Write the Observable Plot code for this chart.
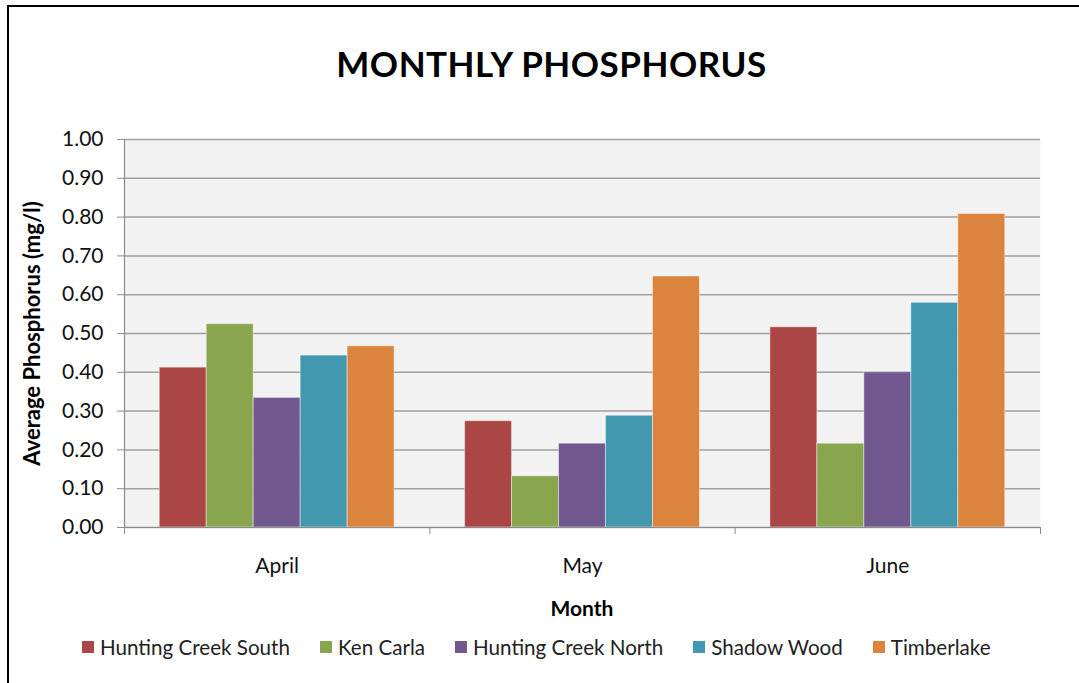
<!DOCTYPE html>
<html>
<head>
<meta charset="utf-8">
<script src="https://cdn.jsdelivr.net/npm/d3@7"></script>
<script src="https://cdn.jsdelivr.net/npm/@observablehq/plot@0.6"></script>
<style>
  html, body { margin: 0; padding: 0; background: #fff; }
  #wrap { position: relative; width: 1079px; height: 683px; overflow: hidden; font-family: Lato, "Open Sans", sans-serif; }
  #border { position: absolute; left: 7px; top: 5px; width: 1200px; height: 800px; border: 2.5px solid #000; box-sizing: border-box; }
  #title { position: absolute; left: 0; width: 1103px; top: 42px; text-align: center; font: bold 35px Lato, sans-serif; color: #000; letter-spacing: 0.5px; }
  #plot { position: absolute; left: 0; top: 0; }
  #xtitle { position: absolute; left: 124px; width: 916px; top: 595px; text-align: center; font: bold 21px Lato, sans-serif; color: #000; }
  #legend { position: absolute; left: 82px; top: 635px; display: flex; gap: 30px; font: 20.6px Lato, sans-serif; color: #222; white-space: nowrap; }
  .item { display: flex; align-items: center; gap: 6px; }
  .sw { width: 12px; height: 12px; display: inline-block; }
</style>
</head>
<body>
<div id="wrap">
  <div id="border"></div>
  <div id="plot"></div>
  <div id="title">MONTHLY PHOSPHORUS</div>
  <div id="xtitle">Month</div>
  <div id="legend"></div>
</div>
<script>
const months = ["April", "May", "June"];
const sites = ["Hunting Creek South", "Ken Carla", "Hunting Creek North", "Shadow Wood", "Timberlake"];
const colors = ["#AA4643", "#89A54E", "#71588F", "#4198AF", "#DB843D"];
const hcs = [0.412, 0.274, 0.516];
const kenCarla = [0.524, 0.132, 0.216];
const hcn = [0.334, 0.216, 0.400];
const shadowWood = [0.443, 0.288, 0.579];
const timberlake = [0.467, 0.647, 0.808];
const yTicks = [0, 0.1, 0.2, 0.3, 0.4, 0.5, 0.6, 0.7, 0.8, 0.9, 1.0];
const yLabel = "Average Phosphorus (mg/l)";

const series = [hcs, kenCarla, hcn, shadowWood, timberlake];
const pad = 0.75, slots = sites.length + 2 * pad;
const rows = [];
months.forEach((m, i) => sites.forEach((s, j) => rows.push({
  month: m, site: s, value: series[j][i],
  x1: i + (pad + j) / slots, x2: i + (pad + j + 1) / slots
})));
const boundaries = d3.range(months.length + 1);
const centers = months.map((m, i) => i + 0.5);

const chart = Plot.plot({
  width: 1079, height: 683,
  marginTop: 139, marginBottom: 156, marginLeft: 124, marginRight: 39,
  style: { background: "transparent", fontFamily: "Lato, sans-serif" },
  x: { domain: [0, months.length] },
  y: { domain: [0, 1] },
  color: { domain: sites, range: colors },
  marks: [
    Plot.frame({ fill: "#f2f2f2", stroke: null }),
    Plot.gridY(yTicks, { stroke: "#9f9f9f", strokeOpacity: 1, strokeWidth: 1.5 }),
    Plot.rectY(rows, { x1: "x1", x2: "x2", y: "value", fill: "site", stroke: "white", strokeOpacity: 0.45, strokeWidth: 1 }),
    Plot.ruleY([0], { stroke: "#8c8c8c", strokeWidth: 1.2 }),
    Plot.ruleX([0], { stroke: "#8c8c8c", strokeWidth: 1.2 }),
    Plot.axisY({ ticks: yTicks, tickFormat: d3.format(".2f"), tickSize: 7, tickPadding: 14, stroke: "#8c8c8c", fontSize: 21, color: "#111", label: null }),
    Plot.axisX({ ticks: boundaries, tickFormat: () => "", tickSize: 7, stroke: "#8c8c8c", label: null }),
    Plot.axisX({ ticks: centers, tickFormat: (d) => months[Math.floor(d)], tickSize: 0, tickPadding: 31, fontSize: 21, color: "#111", label: null }),
    Plot.text([yLabel], { text: (d) => d, frameAnchor: "left", textAnchor: "middle", dx: -92, rotate: -90, fontSize: 22, fontWeight: "bold", fill: "#000" })
  ]
});
document.getElementById("plot").appendChild(chart);

const legend = document.getElementById("legend");
sites.forEach((s, j) => {
  const it = document.createElement("div");
  it.className = "item";
  const sw = document.createElement("span");
  sw.className = "sw";
  sw.style.background = colors[j];
  const tx = document.createElement("span");
  tx.textContent = s;
  it.appendChild(sw); it.appendChild(tx);
  legend.appendChild(it);
});
</script>
</body>
</html>
